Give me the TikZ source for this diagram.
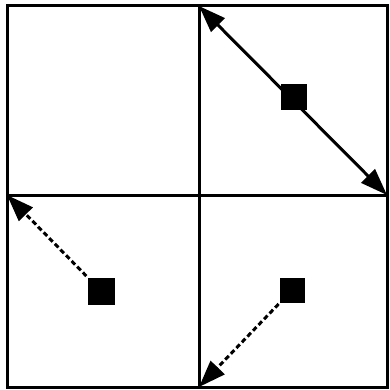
\documentclass[tikz,border=0pt]{standalone}
\usepackage{tikz}
\usetikzlibrary{positioning}
\usetikzlibrary{calc}
\usetikzlibrary{arrows.meta}

\begin{document}
\begin{tikzpicture}[x=1pt, y=-1pt, line width=3pt,
    blob/.style={draw=none, fill=black, minimum size=26pt, inner sep=0pt},
    tip/.style={-{Triangle[length=27pt, width=19pt]}},
    bothtip/.style={{Triangle[length=27pt, width=19pt]}-{Triangle[length=27pt, width=19pt]}},
    dashtip/.style={tip, dash pattern=on 5pt off 3pt}]
    \useasboundingbox (0,0) rectangle (390,390);

    % frame and quadrants
    \draw (7,6) rectangle (387,387);
    \coordinate (top) at (199,6);
    \coordinate (bot) at (199,387);
    \coordinate (left) at (7,195);
    \coordinate (right) at (387,195);
    \draw (top) -- (bot);
    \draw (left) -- (right);

    % moving squares
    \draw[bothtip] (top) -- (right);
    \node (ne) [blob] at (294,97) {};
    \node (sw) [blob, minimum size=27pt] at (101,291) {};
    \node (se) [blob, minimum size=25pt] at (292,290) {};

    \draw[dashtip] (sw) -- (left);
    \draw[dashtip] (se) -- (bot);
\end{tikzpicture}
\end{document}
